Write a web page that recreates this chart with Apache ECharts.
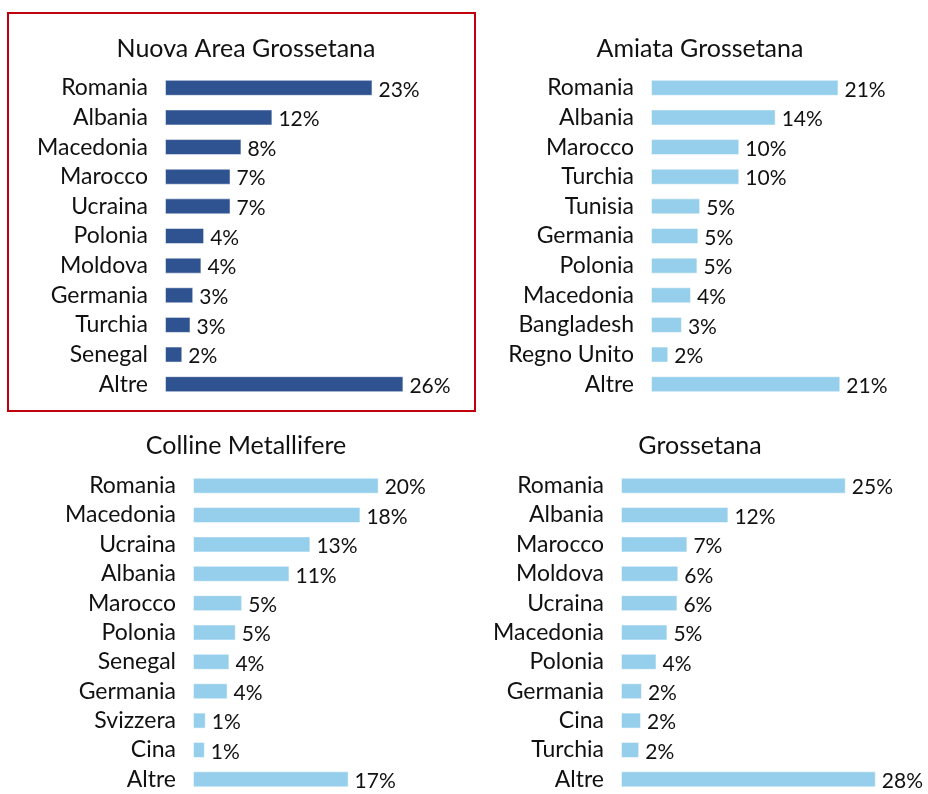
<!DOCTYPE html>
<html>
<head>
<meta charset="utf-8">
<script src="https://cdn.jsdelivr.net/npm/echarts@6/dist/echarts.min.js"></script>
<style>
  html, body { margin: 0; padding: 0; background: #fff; }
  #chart { width: 928px; height: 794px; }
</style>
</head>
<body>
<div id="chart"></div>
<script>
// percentuali (arrotondate in etichetta)
var titoli = ['Nuova Area Grossetana', 'Amiata Grossetana', 'Colline Metallifere', 'Grossetana'];

var paesiNuova = ['Romania', 'Albania', 'Macedonia', 'Marocco', 'Ucraina', 'Polonia', 'Moldova', 'Germania', 'Turchia', 'Senegal', 'Altre'];
var valoriNuova = [22.8, 11.8, 8.4, 7.2, 7.2, 4.3, 4.0, 3.1, 2.8, 1.9, 26.2];

var paesiAmiata = ['Romania', 'Albania', 'Marocco', 'Turchia', 'Tunisia', 'Germania', 'Polonia', 'Macedonia', 'Bangladesh', 'Regno Unito', 'Altre'];
var valoriAmiata = [20.6, 13.7, 9.7, 9.7, 5.4, 5.2, 5.1, 4.4, 3.4, 1.9, 20.8];

var paesiColline = ['Romania', 'Macedonia', 'Ucraina', 'Albania', 'Marocco', 'Polonia', 'Senegal', 'Germania', 'Svizzera', 'Cina', 'Altre'];
var valoriColline = [20.4, 18.4, 12.9, 10.6, 5.4, 4.7, 4.0, 3.8, 1.4, 1.3, 17.1];

var paesiGrosseto = ['Romania', 'Albania', 'Marocco', 'Moldova', 'Ucraina', 'Macedonia', 'Polonia', 'Germania', 'Cina', 'Turchia', 'Altre'];
var valoriGrosseto = [24.7, 11.8, 7.3, 6.3, 6.2, 5.1, 3.9, 2.3, 2.2, 2.0, 28.0];

var paesi = [paesiNuova, paesiAmiata, paesiColline, paesiGrosseto];
var valori = [valoriNuova, valoriAmiata, valoriColline, valoriGrosseto];
var colori = ['#2f5290', '#96cfeb', '#96cfeb', '#96cfeb'];

var font = 'Lato, "Open Sans", sans-serif';
var grids = [
    { left: 165, top: 73, width: 273, height: 326 },
    { left: 651, top: 73, width: 273, height: 326 },
    { left: 193, top: 471, width: 273, height: 326 },
    { left: 621, top: 471, width: 273, height: 326 }
];
var titlePos = [[241, 31], [695, 31], [241, 428], [695, 428]];

var myChart = echarts.init(document.getElementById('chart'));

var option = {
    backgroundColor: '#fff',
    animation: false,
    title: titoli.map(function (t, i) {
        return {
            text: t,
            left: titlePos[i][0],
            top: titlePos[i][1],
            textAlign: 'center',
            textStyle: { fontFamily: font, fontSize: 25, fontWeight: 'normal', color: '#111' }
        };
    }),
    grid: grids,
    xAxis: grids.map(function (g, i) {
        return { type: 'value', gridIndex: i, min: 0, max: 30, show: false };
    }),
    yAxis: paesi.map(function (p, i) {
        return {
            type: 'category',
            gridIndex: i,
            data: p,
            inverse: true,
            axisLine: { show: false },
            axisTick: { show: false },
            splitLine: { show: false },
            axisLabel: { interval: 0, hideOverlap: false, margin: 17, fontFamily: font, fontSize: 23, color: '#111' }
        };
    }),
    series: valori.map(function (v, i) {
        return {
            type: 'bar',
            xAxisIndex: i,
            yAxisIndex: i,
            data: v,
            barWidth: 16,
            itemStyle: { color: colori[i], borderColor: 'rgba(255,255,255,0.5)', borderWidth: 1 },
            label: {
                show: true,
                position: 'right',
                distance: 6,
                offset: [0, 2],
                fontFamily: font,
                fontSize: 21,
                color: '#111',
                formatter: function (p) { return Math.round(p.value) + '%'; }
            }
        };
    }),
    graphic: [{
        type: 'rect',
        shape: { x: 8, y: 13, width: 467, height: 398 },
        style: { fill: 'none', stroke: '#c0000c', lineWidth: 2 }
    }]
};

myChart.setOption(option);
</script>
</body>
</html>
